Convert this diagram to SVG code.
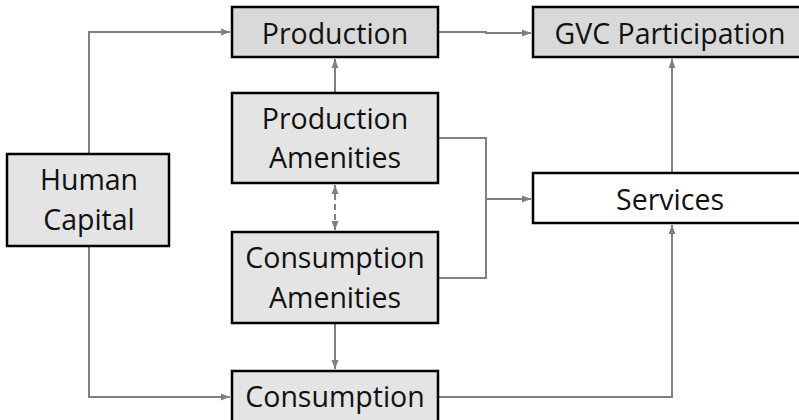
<svg xmlns="http://www.w3.org/2000/svg" width="799" height="420" viewBox="0 0 799 420">
<style>
.box{stroke:#000;stroke-width:2.5}
.dark{fill:#d9d9d9}
.light{fill:#e4e4e4}
.white{fill:#fff}
text{font-family:"Open Sans","Liberation Sans",sans-serif;font-size:28.5px;fill:#111;text-anchor:middle}
.c{fill:none;stroke:#808080;stroke-width:2}
</style>
<defs>
<marker id="ah" markerUnits="userSpaceOnUse" markerWidth="10" markerHeight="10" viewBox="0 0 10 10" refX="9" refY="5" orient="auto-start-reverse">
<path d="M0,1.5 L9,5 L0,8.5 Z" fill="#808080"/>
</marker>
</defs>
<g id="connectors">
<path class="c" d="M89,154 V32 H230" marker-end="url(#ah)"/>
<path class="c" d="M438,32 H486 V33 H531" marker-end="url(#ah)"/>
<path class="c" d="M335,93 V59" marker-end="url(#ah)"/>
<path class="c" d="M335,230 V185" stroke-dasharray="6,4" marker-start="url(#ah)" marker-end="url(#ah)"/>
<path class="c" d="M335,323 V369" marker-end="url(#ah)"/>
<path class="c" d="M89,246 V397 H230" marker-end="url(#ah)"/>
<path class="c" d="M438,138 H486 V278 H438"/>
<path class="c" d="M486,199 H531" marker-end="url(#ah)"/>
<path class="c" d="M438,397 H672 V225" marker-end="url(#ah)"/>
<path class="c" d="M672,173 V59" marker-end="url(#ah)"/>
</g>
<g id="production">
<rect class="box dark" x="232" y="7" width="206" height="50"/>
<text x="335" y="44">Production</text>
</g>
<g id="gvc">
<rect class="box dark" x="533" y="7" width="280" height="50"/>
<text x="670" y="44">GVC Participation</text>
</g>
<g id="production-amenities">
<rect class="box light" x="232" y="93" width="206" height="90"/>
<text x="335" y="129">Production</text>
<text x="335" y="168">Amenities</text>
</g>
<g id="human-capital">
<rect class="box light" x="7" y="154" width="162" height="92"/>
<text x="89" y="190">Human</text>
<text x="89" y="230">Capital</text>
</g>
<g id="services">
<rect class="box white" x="533" y="173" width="280" height="50"/>
<text x="670" y="210">Services</text>
</g>
<g id="consumption-amenities">
<rect class="box light" x="232" y="232" width="206" height="91"/>
<text x="335" y="268">Consumption</text>
<text x="335" y="308">Amenities</text>
</g>
<g id="consumption">
<rect class="box light" x="232" y="371" width="206" height="60"/>
<text x="335" y="407">Consumption</text>
</g>
</svg>
